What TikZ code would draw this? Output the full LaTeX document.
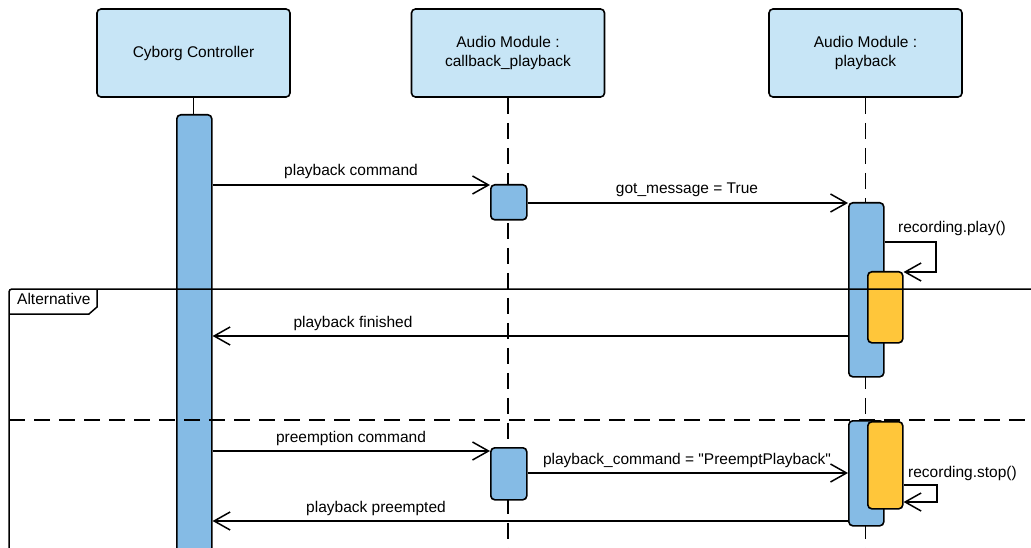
\documentclass[tikz,border=0pt]{standalone}
\usepackage{fontspec}
\setmainfont{Liberation Sans}[Ligatures=TeXOff]
\usetikzlibrary{arrows.meta}
\definecolor{headfill}{RGB}{199,229,246}
\definecolor{actblue}{RGB}{133,187,229}
\definecolor{actorange}{RGB}{255,198,58}
\begin{document}
\begin{tikzpicture}[x=1pt,y=-1pt,
  every node/.style={font=\fontsize{15.5}{18.3}\selectfont, inner sep=0pt},
  head/.style={draw, line width=1.6pt, fill=headfill, rounded corners=4pt,
    minimum width=193pt, minimum height=88pt, align=center},
  act/.style={draw, line width=1.6pt, fill=actblue, rounded corners=4pt,
    minimum width=35pt, anchor=north west},
  rec/.style={act, fill=actorange},
  life/.style={line width=1.8pt, dash pattern=on 16pt off 9pt},
  msg/.style={line width=1.5pt, -{Straight Barb[length=16pt,width=18pt,line width=1.5pt]}},
  lbl/.style={anchor=base},
  note/.style={anchor=base west},
  frame/.style={line width=1.5pt}]
\useasboundingbox (0,0) rectangle (1031,548);
\clip (0,0) rectangle (1031,548);

% participants
\node[head] (cc) at (193.5,53) {Cyborg Controller};
\node[head] (cb) at (508,53) {Audio Module :\\callback\_playback};
\node[head] (pb) at (865.5,53) {Audio Module :\\playback};

% lifelines
\coordinate (end1) at (193.5,560);
\coordinate (end2) at (508,560);
\coordinate (end3) at (865.5,560);
\draw[life] (cc.south) -- (end1);
\draw[life] (cb.south) -- (end2);
\draw[life] (pb.south) -- (end3);

% activations
\node[act, minimum height=440pt] (a1) at (176,114) {};
\node[act, minimum width=36pt, minimum height=35pt] (a2) at (490,184) {};
\node[act, minimum height=174pt] (a3) at (848,202) {};
\node[rec, minimum height=71pt] (r3) at (867,271) {};
\node[act, minimum width=36pt, minimum height=52pt] (a4) at (490,447) {};
\node[act, minimum height=105pt] (a5) at (848,420) {};
\node[rec, minimum height=87pt] (r5) at (867,421) {};

% messages
\draw[msg] (a1.east |- 0,185) -- (a2.west |- 0,185);
\node[lbl] at (351,176) {playback command};

\draw[msg] (a2.east |- 0,203) -- (a3.west |- 0,203);
\node[lbl] at (687,194) {got\_message = True};

\coordinate (p1) at (936,242);
\coordinate (p2) at (936,272);
\draw[msg] (a3.east |- p1) -- (p1) -- (p2) -- (r3.east |- p2);
\node[note] at (898,233) {recording.play()};

\draw[msg] (a3.west |- 0,336) -- (a1.east |- 0,336);
\node[lbl] at (353,327) {playback finished};

\draw[msg] (a1.east |- 0,451) -- (a4.west |- 0,451);
\node[lbl] at (351,442) {preemption command};

\draw[msg] (a4.east |- 0,473) -- (a5.west |- 0,473);
\node[lbl] at (687,464) {playback\_command = "PreemptPlayback"};

\coordinate (q1) at (937,485);
\coordinate (q2) at (937,502);
\draw[msg] (r5.east |- q1) -- (q1) -- (q2) -- (r5.east |- q2);
\node[note] at (908,477) {recording.stop()};

\draw[msg] (a5.west |- 0,521) -- (a1.east |- 0,521);
\node[lbl] at (376,512) {playback preempted};

% alternative fragment
\coordinate (fbl) at (9,560);
\coordinate (ftl) at (9,289);
\coordinate (ftr) at (1040,289);
\draw[frame, rounded corners=3pt] (fbl) -- (ftl) -- (ftr);
\draw[frame] (9,314) -- (89,314) -- (97,307) -- (97,289);
\node[note] (alt) at (17,305) {Alternative};
\coordinate (sl) at (9,420);
\coordinate (sr) at (1040,420);
\draw[frame, dash pattern=on 16pt off 9pt] (sl) -- (sr);
\end{tikzpicture}
\end{document}
